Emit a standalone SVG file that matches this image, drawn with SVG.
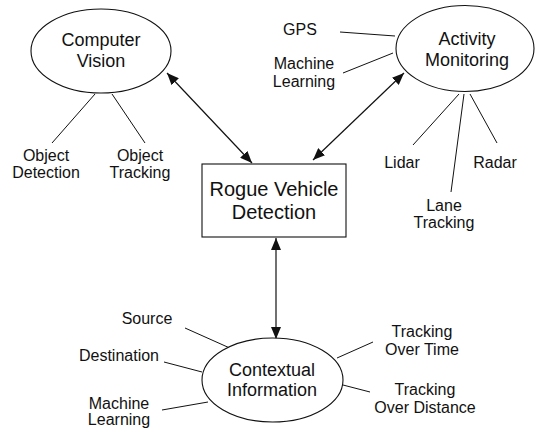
<svg xmlns="http://www.w3.org/2000/svg" width="535" height="429" viewBox="0 0 535 429">
<style>
text{font-family:"Liberation Sans",Arial,sans-serif;fill:#111;text-anchor:middle}
.n{font-size:18px}
.b{font-size:20px}
.s{font-size:16px}
.sh{fill:#fff;stroke:#111;stroke-width:1.1}
.ln{stroke:#111;stroke-width:1;fill:none}
.ar{stroke:#111;stroke-width:1.2;fill:none;marker-start:url(#ah);marker-end:url(#ah)}
</style>
<defs>
<marker id="ah" markerUnits="userSpaceOnUse" markerWidth="12" markerHeight="10" refX="12" refY="5" orient="auto-start-reverse">
<path d="M0,0 L12,5 L0,10 z" fill="#111"/>
</marker>
</defs>
<rect width="535" height="429" fill="#fff"/>
<g id="connectors">
<line class="ar" x1="167" y1="73" x2="252" y2="163"/>
<line class="ar" x1="404" y1="73" x2="313" y2="160"/>
<line class="ar" x1="276" y1="238" x2="276" y2="339"/>
<line class="ln" x1="95" y1="94" x2="52" y2="143"/>
<line class="ln" x1="112" y1="94" x2="145" y2="143"/>
<line class="ln" x1="340" y1="32" x2="395" y2="36"/>
<line class="ln" x1="343" y1="73" x2="393" y2="53"/>
<line class="ln" x1="413" y1="145" x2="459" y2="94"/>
<line class="ln" x1="451" y1="192" x2="464" y2="94"/>
<line class="ln" x1="497" y1="143" x2="470" y2="94"/>
<line class="ln" x1="185" y1="328" x2="232" y2="349"/>
<line class="ln" x1="164" y1="362" x2="202" y2="372"/>
<line class="ln" x1="162" y1="410" x2="208" y2="402"/>
<line class="ln" x1="337" y1="358" x2="373" y2="342"/>
<line class="ln" x1="343" y1="385" x2="370" y2="392"/>
</g>
<g id="computer-vision">
<ellipse class="sh" cx="101" cy="51" rx="70" ry="42"/>
<text class="n" x="101" y="46">Computer</text>
<text class="n" x="101" y="67">Vision</text>
</g>
<g id="activity-monitoring">
<ellipse class="sh" cx="465" cy="48.5" rx="69" ry="43"/>
<text class="n" x="467" y="45">Activity</text>
<text class="n" x="467" y="66">Monitoring</text>
</g>
<g id="rogue-vehicle-detection">
<rect class="sh" x="202" y="164" width="144" height="73"/>
<text class="b" x="274" y="196">Rogue Vehicle</text>
<text class="b" x="274" y="219">Detection</text>
</g>
<g id="contextual-information">
<ellipse class="sh" cx="272.5" cy="380" rx="70.5" ry="42"/>
<text class="n" x="272" y="376">Contextual</text>
<text class="n" x="272" y="396">Information</text>
</g>
<g id="object-detection"><text class="s" x="46" y="161">Object</text><text class="s" x="46" y="178">Detection</text></g>
<g id="object-tracking"><text class="s" x="140" y="161">Object</text><text class="s" x="140" y="178">Tracking</text></g>
<g id="gps"><text class="s" x="300" y="35">GPS</text></g>
<g id="machine-learning-am"><text class="s" x="304" y="69">Machine</text><text class="s" x="304" y="87">Learning</text></g>
<g id="lidar"><text class="s" x="402" y="168">Lidar</text></g>
<g id="radar"><text class="s" x="495" y="168">Radar</text></g>
<g id="lane-tracking"><text class="s" x="444" y="211">Lane</text><text class="s" x="444" y="228">Tracking</text></g>
<g id="source"><text class="s" x="147" y="324">Source</text></g>
<g id="destination"><text class="s" x="119" y="361">Destination</text></g>
<g id="machine-learning-ci"><text class="s" x="119" y="409">Machine</text><text class="s" x="119" y="425">Learning</text></g>
<g id="tracking-over-time"><text class="s" x="422" y="337">Tracking</text><text class="s" x="422" y="355">Over Time</text></g>
<g id="tracking-over-distance"><text class="s" x="425" y="395">Tracking</text><text class="s" x="425" y="413">Over Distance</text></g>
</svg>
